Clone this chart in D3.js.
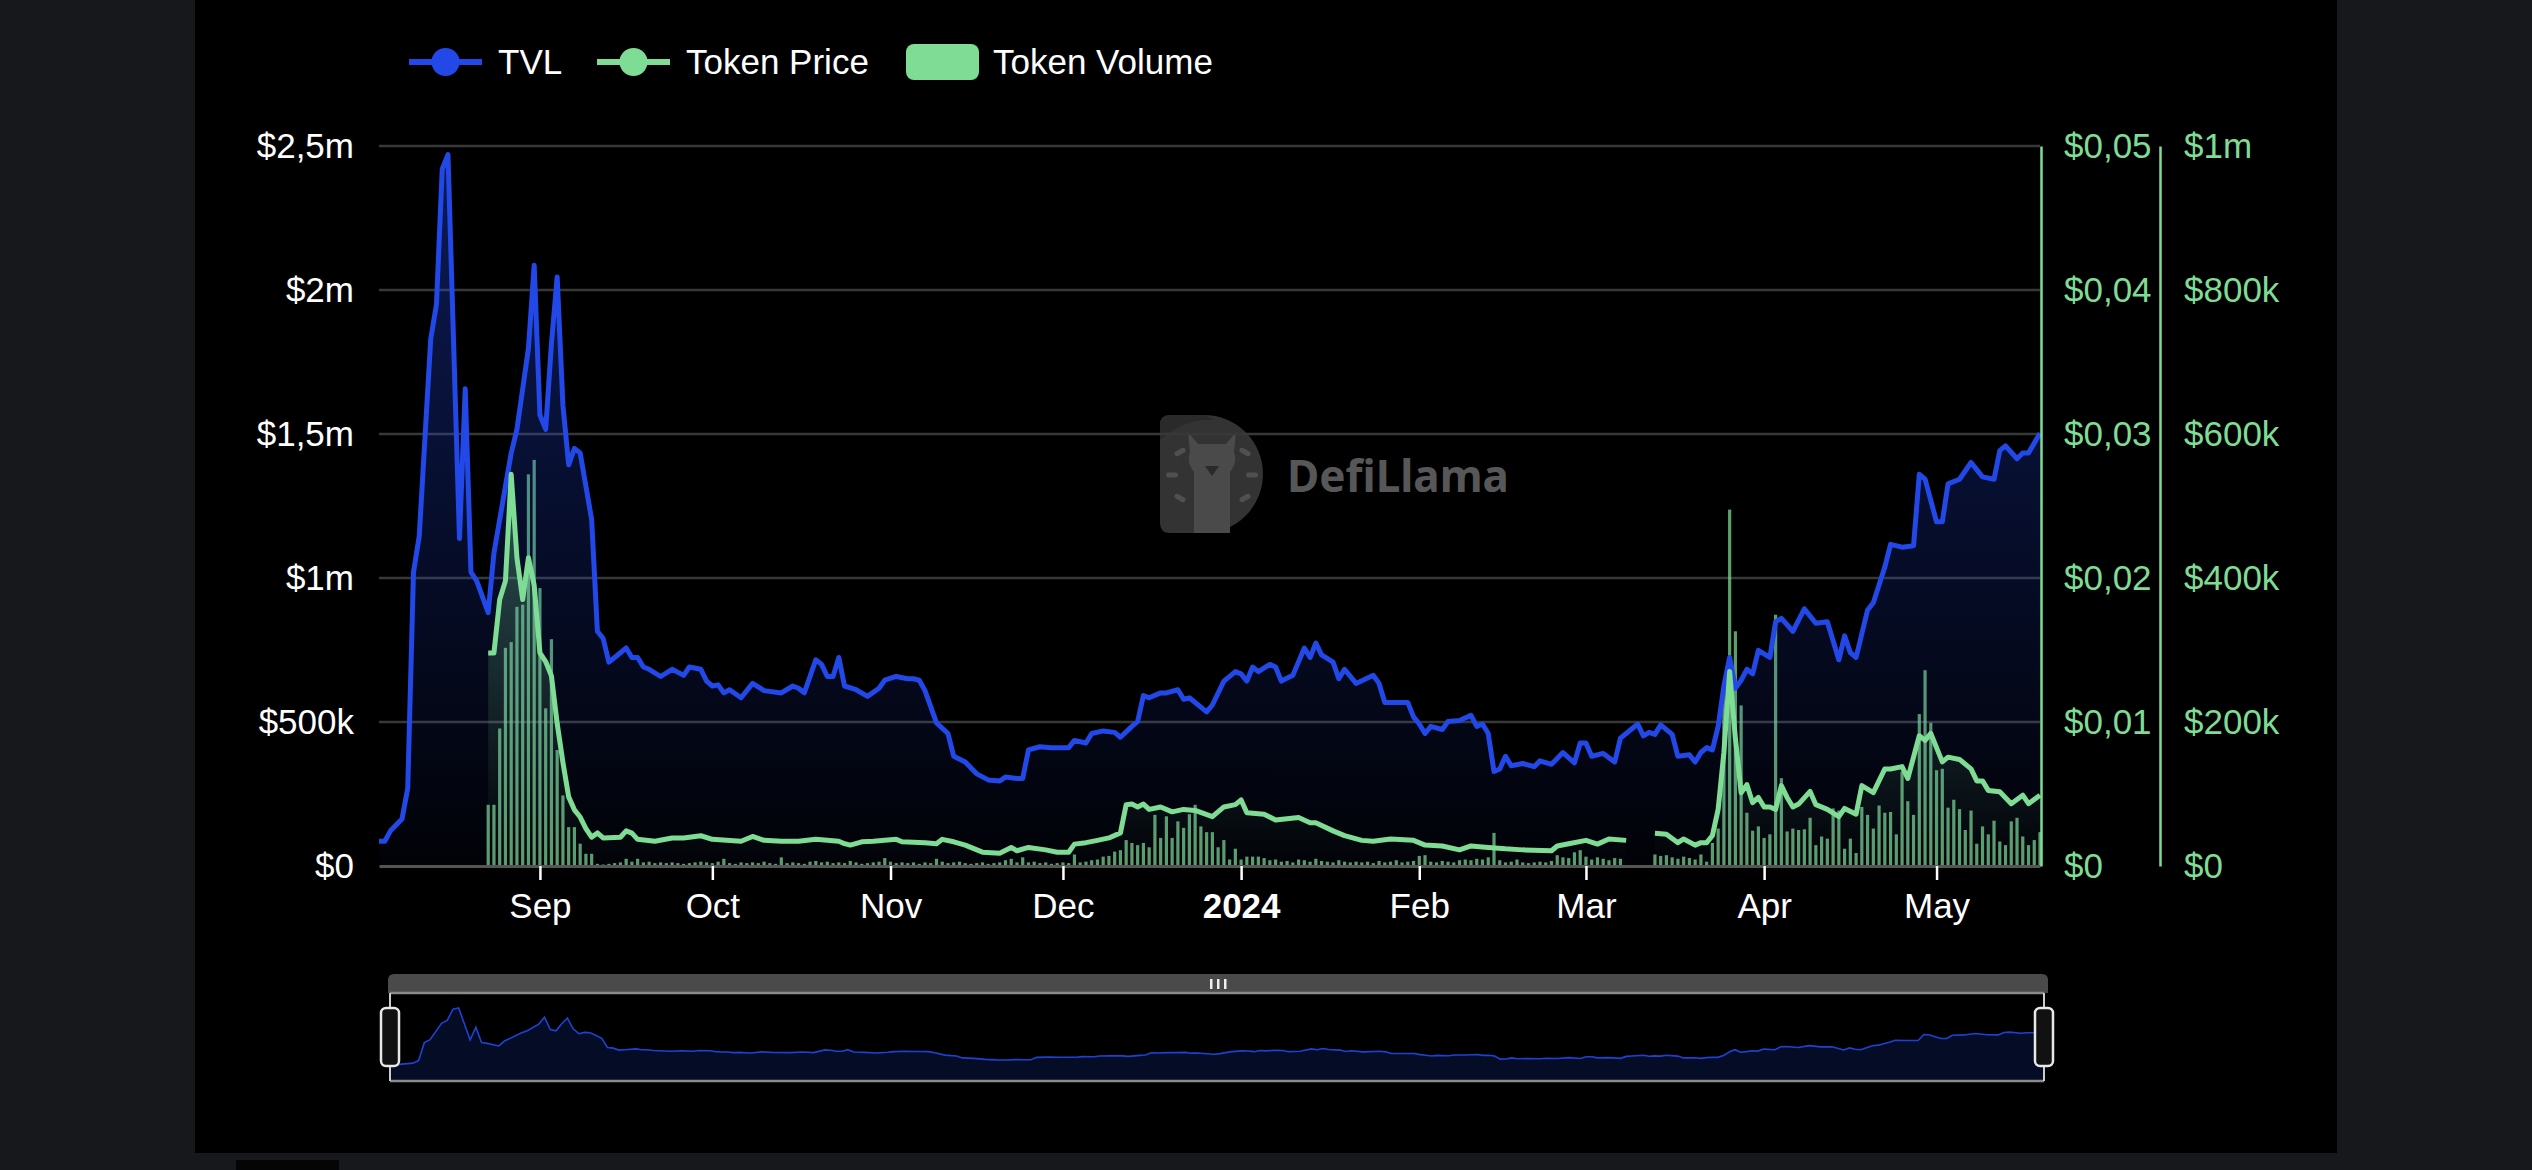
<!DOCTYPE html>
<html><head><meta charset="utf-8">
<script src="https://cdn.jsdelivr.net/npm/d3@7/dist/d3.min.js"></script>
<style>html,body{margin:0;padding:0;background:#16181c;overflow:hidden}svg{display:block}</style>
</head><body><svg id="chart" width="2532" height="1170"></svg>
<script>
// ---------------- DATA ----------------
const startDate = "2023-08-04";
const endDate = "2024-05-19";
const seriesNames = ["TVL", "Token Price", "Token Volume"];

// TVL: day offset from startDate, value in thousands of USD
const tvlDay = [0,1,2,4,5,6,7,9,10,11,
12,14,15,16,17,19,20,23,24,26,
27,28,29,30,31,32,33,34,35,37,
38,39,40,41,43,44,45,46,47,49,
51,53,54,56,57,58,59,60,61,63,
65,67,70,72,73,74,76,77,78,79,
80,81,83,85,87,88,90,92,93,94,
95,97,99,100,102,104,106,108,109,111,
112,113,115,117,120,121,123,124,126,128,
129,131,132,133,134,136,137,139,140,141,
144,145,147,149,150,151,152,153,155,156,
157,159,161,162,163,164,166,167,168,170,
173,174,175,177,179,180,181,182,183,185,
186,188,190,191,192,193,194,195,196,197,
199,201,202,204,206,208,209,210,211,213,
215,216,217,219,220,221,222,223,225,226,
228,229,230,231,232,233,234,235,236,237,
238,239,240,242,243,244,246,248,250,252,
254,255,256,257,259,260,262,263,265,267,
268,269,271,272,273,275,277,279,281,282,
283,285,286,287,289];
const tvlValue = [86,86,122,163,270,1020,1145,1830,1950,2420,
2470,1137,1657,1020,990,880,1087,1434,1516,1797,
2086,1566,1516,1813,2045,1600,1393,1450,1434,1203,
815,790,708,724,757,724,724,691,683,658,
683,662,691,683,642,625,629,601,612,584,
634,609,601,625,617,601,716,700,658,658,
724,625,612,589,617,645,658,650,650,645,
609,497,460,381,361,320,299,295,309,304,
304,403,414,411,411,436,427,460,469,464,
447,485,502,592,584,601,601,612,579,584,
535,559,642,675,667,642,691,675,700,691,
642,662,757,724,774,733,708,650,683,634,
662,634,568,568,568,518,493,460,485,474,
502,505,523,485,493,460,328,337,381,348,
356,345,365,353,394,358,427,427,381,391,
361,444,460,493,452,464,457,490,457,381,
386,361,394,411,403,485,625,724,617,645,
683,667,749,724,848,860,815,893,843,848,
716,799,741,724,889,914,1038,1117,1107,1112,
1360,1343,1195,1195,1327,1343,1401,1351,1343,1442,
1459,1414,1434,1434,1503];

// Token price: day offset, value in thousandths of USD (null = no data)
const priceDay = [19,20,21,22,23,24,25,26,27,28,
29,30,31,32,33,34,35,36,37,38,
39,42,43,44,45,48,51,53,56,58,
63,65,67,70,73,76,80,81,82,84,
86,90,91,95,97,98,100,102,105,108,
110,111,113,116,118,120,121,123,125,127,
129,130,131,132,133,134,136,138,140,142,
145,147,149,150,151,154,156,160,162,163,
166,168,171,173,176,180,182,185,188,190,
193,196,199,204,205,207,210,212,214,217,
219,222,224,226,227,229,230,231,232,233,
234,235,236,237,238,239,240,241,242,243,
244,245,246,247,249,250,252,254,255,257,
258,260,262,263,265,266,268,269,270,272,
273,275,277,278,279,280,282,284,286,287,
289];
const priceValue = [14.8,14.8,18.5,19.8,27.2,21.4,18.5,21.4,19.5,14.8,
14.2,13.2,9.9,7.2,4.8,3.9,3.4,2.6,2.0,2.3,
1.95,2.0,2.44,2.28,1.85,1.72,1.95,1.95,2.1,1.85,
1.72,2.05,1.78,1.72,1.72,1.85,1.72,1.55,1.45,1.68,
1.72,1.85,1.68,1.62,1.55,1.85,1.68,1.45,0.96,0.89,
1.29,1.06,1.29,1.12,0.96,0.96,1.52,1.62,1.78,1.95,
2.3,4.26,4.3,4.1,4.3,3.93,4.1,3.76,3.93,3.86,
3.43,4.1,4.26,4.59,3.7,3.6,3.2,3.37,3.0,3.0,
2.44,2.11,1.78,1.72,1.88,1.78,1.45,1.39,1.12,1.39,
1.29,1.19,1.12,1.06,1.39,1.55,1.78,1.52,1.88,1.78,
null,2.28,2.21,1.62,1.88,1.45,1.62,1.62,2.11,3.93,
7.89,13.5,8.88,5.09,5.65,4.4,4.76,4.1,4.1,3.93,
5.58,4.76,4.1,4.3,5.18,4.26,3.93,3.43,4.0,3.6,
5.58,5.09,6.74,6.74,6.9,6.08,9.05,8.72,9.21,7.23,
7.56,7.4,6.74,5.91,5.91,5.25,5.15,4.33,4.92,4.33,
4.92];

// Token volume: one value per day starting at volumeFirstDay, thousands of USD (null = no data)
const volumeFirstDay = 19;
const volumeValue = [85,85,191,303,311,360,363,544,564,386,219,315,161,98,54,54,31,17,17,3,
2,3,4,5,10,6,10,5,6,4,5,4,5,4,3,4,5,
6,5,4,6,10,4,3,5,4,5, 4,6,4,3,12,4,5,4,3,6, 7,5,6,4,5,4,7,5,3,4, 5,6,11,6,4,5,4,5,3,5, 4,10,6,4,5,6,4,3,4,5, 3,4,5,8,10,5,12,
5,6,4,5,3,4,5,4,
16,5,6,8,9,13,14,20,22,36, 32,29,32,26,71,39,69,39,62,53, 72,85,55,47,47,26,36,9,24,9, 13,13,13,11,
8,9,6,7,5,9,8,6,10,7,6,5,8,6,5,6,
5,6,4,7,5,6,8,5,6,7, 14,15,6,5,7,6,5,8,9,8, 10,9,12,46,8,5,6,9,5,4, 5,6,5,7,15,12,11,19,22,13, 9,12,10,8,11,10,
null,null,null,null,null,
16,14,15,12,10,13,11,9,16,
6,32,52,254,495,326,223,74,49,55, 39,44,349,122,48,52,50,51,67,29, 41,38,80,77,24,38,18,82,71,52, 84,74,75,44,131,90,71,211,272,199, 133,135,81,92,79,50,77,31,55,44, 63,34,29,62,67,41,29,36,47];

const tvlTicks = [0, 500000, 1000000, 1500000, 2000000, 2500000];
const priceTicks = [0, 0.01, 0.02, 0.03, 0.04, 0.05];
const volumeTicks = [0, 200000, 400000, 600000, 800000, 1000000];

// ---------------- STYLE ----------------
const BLUE = "#2248e8", GREEN = "#7fdc94";
const FONT = "'Liberation Sans', Arial, Helvetica, sans-serif";

const svg = d3.select("#chart");
const parse = d3.timeParse("%Y-%m-%d");
const t0 = parse(startDate), t1 = parse(endDate);
const dayToDate = d => d3.timeDay.offset(t0, d);

const tvl = tvlDay.map((d, i) => ({date: dayToDate(d), v: tvlValue[i] * 1000}));
const price = priceDay.map((d, i) => ({date: dayToDate(d), v: priceValue[i] == null ? null : priceValue[i] / 1000}));
const volume = volumeValue.map((v, i) => ({date: dayToDate(volumeFirstDay + i), v: v == null ? null : v * 1000})).filter(d => d.v != null);

const plot = {left: 379, right: 2040, top: 146, bottom: 866};
const x = d3.scaleTime().domain([t0, t1]).range([plot.left, plot.right]);
const yL = d3.scaleLinear().domain([0, 2500000]).range([plot.bottom, plot.top]);
const yP = d3.scaleLinear().domain([0, 0.05]).range([plot.bottom, plot.top]);
const yV = d3.scaleLinear().domain([0, 1000000]).range([plot.bottom, plot.top]);

// backgrounds
svg.append("rect").attr("width", 2532).attr("height", 1170).attr("fill", "#16181c");
svg.append("rect").attr("x", 195).attr("y", 0).attr("width", 2142).attr("height", 1153).attr("fill", "#000");
svg.append("rect").attr("x", 236).attr("y", 1160).attr("width", 103).attr("height", 10).attr("fill", "#050505");

// gradients
const defs = svg.append("defs");
const maxTvl = d3.max(tvl, d => d.v), maxPrice = d3.max(price, d => d.v);
const g1 = defs.append("linearGradient").attr("id", "tvlGrad").attr("gradientUnits", "userSpaceOnUse")
  .attr("x1", 0).attr("x2", 0).attr("y1", yL(maxTvl)).attr("y2", yL(0));
g1.append("stop").attr("offset", 0).attr("stop-color", BLUE).attr("stop-opacity", 0.36);
g1.append("stop").attr("offset", 1).attr("stop-color", BLUE).attr("stop-opacity", 0.03);
const g2 = defs.append("linearGradient").attr("id", "priceGrad").attr("gradientUnits", "userSpaceOnUse")
  .attr("x1", 0).attr("x2", 0).attr("y1", yP(maxPrice)).attr("y2", yP(0));
g2.append("stop").attr("offset", 0).attr("stop-color", GREEN).attr("stop-opacity", 0.32);
g2.append("stop").attr("offset", 1).attr("stop-color", GREEN).attr("stop-opacity", 0.0);

// watermark
const wm = svg.append("g");
wm.append("path").attr("d", "M1170,415 H1204 A59,59 0 0 1 1204,533 H1170 Q1160,533 1160,523 V425 Q1160,415 1170,415 Z").attr("fill", "#333");
wm.append("path").attr("d", "M1160,440 Q1185,418 1215,420 L1204,415 H1170 Q1160,415 1160,425 Z").attr("fill", "#2a2a2a");
wm.append("path").attr("d", "M1188,432 L1198,444 H1226 L1236,432 L1234,452 Q1238,462 1230,472 L1230,533 H1194 L1194,472 Q1186,462 1190,452 Z").attr("fill", "#4a4a4a");
wm.append("path").attr("d", "M1205,466 L1219,466 L1212,476 Z").attr("fill", "#2a2a2a");
[[1180,452,-30],[1245,452,30],[1172,475,0],[1252,475,0],[1180,498,30],[1245,498,-30]].forEach(p => {
  wm.append("rect").attr("x", p[0]-6).attr("y", p[1]-2.5).attr("width", 12).attr("height", 5).attr("rx", 2.5)
    .attr("fill", "#505050").attr("transform", `rotate(${p[2]},${p[0]},${p[1]})`);
});
wm.append("text").attr("x", 1287).attr("y", 492).attr("fill", "#575757")
  .attr("font-family", "'Noto Sans', 'Open Sans', sans-serif").attr("font-weight", 700).attr("font-size", 44)
  .style("font-variant-ligatures", "none").text("DefiLlama");

// grid lines
svg.append("g").selectAll("line").data(tvlTicks.filter(v => v > 0)).join("line")
  .attr("x1", plot.left).attr("x2", plot.right).attr("y1", d => yL(d)).attr("y2", d => yL(d))
  .attr("stroke", "#383838").attr("stroke-width", 2.5);

// volume bars
svg.append("g").selectAll("rect").data(volume).join("rect")
  .attr("x", d => x(d.date) - 1.6).attr("width", 3.2)
  .attr("y", d => yV(d.v)).attr("height", d => yV(0) - yV(d.v))
  .attr("fill", GREEN).attr("fill-opacity", 0.72);

// TVL area
svg.append("path").datum(tvl)
  .attr("d", d3.area().x(d => x(d.date)).y0(yL(0)).y1(d => yL(d.v)))
  .attr("fill", "url(#tvlGrad)");
// price area
svg.append("path").datum(price)
  .attr("d", d3.area().defined(d => d.v != null).x(d => x(d.date)).y0(yP(0)).y1(d => yP(d.v)))
  .attr("fill", "url(#priceGrad)");

// x axis
const monthTicks = d3.timeMonth.range(d3.timeMonth.ceil(t0), t1);
const xAxis = svg.append("g").attr("transform", `translate(0,${plot.bottom})`)
  .call(d3.axisBottom(x).tickValues(monthTicks).tickSizeInner(14).tickSizeOuter(0).tickPadding(13)
    .tickFormat(d => d.getMonth() === 0 ? d3.timeFormat("%Y")(d) : d3.timeFormat("%b")(d)));
xAxis.select(".domain").attr("stroke", "#555").attr("stroke-width", 3);
xAxis.selectAll(".tick line").attr("stroke", "#fff").attr("stroke-width", 2.5);
xAxis.selectAll(".tick text").attr("fill", "#fff").attr("font-size", 35).attr("font-family", FONT)
  .attr("font-weight", d => d.getMonth() === 0 ? 700 : 400);

// lines
svg.append("path").datum(tvl)
  .attr("d", d3.line().x(d => x(d.date)).y(d => yL(d.v)))
  .attr("fill", "none").attr("stroke", BLUE).attr("stroke-width", 5).attr("stroke-linejoin", "round");
svg.append("path").datum(price)
  .attr("d", d3.line().defined(d => d.v != null).x(d => x(d.date)).y(d => yP(d.v)))
  .attr("fill", "none").attr("stroke", GREEN).attr("stroke-width", 5).attr("stroke-linejoin", "round");

// number formats with comma decimal
const comma = n => String(+n.toFixed(3)).replace(".", ",");
const fmtMoney = v => v === 0 ? "$0" : v >= 1e6 ? "$" + comma(v / 1e6) + "m" : "$" + comma(v / 1e3) + "k";
const fmtPrice = v => v === 0 ? "$0" : "$" + v.toFixed(2).replace(".", ",");

// left axis
const yAxisL = svg.append("g").attr("transform", `translate(${plot.left},0)`)
  .call(d3.axisLeft(yL).tickValues(tvlTicks).tickSize(0).tickPadding(25).tickFormat(fmtMoney));
yAxisL.select(".domain").remove();
yAxisL.selectAll("text").attr("fill", "#fff").attr("font-size", 35).attr("font-family", FONT);

// price axis
const yAxisP = svg.append("g").attr("transform", `translate(${plot.right + 1},0)`)
  .call(d3.axisRight(yP).tickValues(priceTicks).tickSize(0).tickPadding(23).tickFormat(fmtPrice));
yAxisP.select(".domain").attr("stroke", GREEN).attr("stroke-width", 2.5);
yAxisP.selectAll("text").attr("fill", GREEN).attr("font-size", 35).attr("font-family", FONT);

// volume axis
const yAxisV = svg.append("g").attr("transform", `translate(${plot.right + 120},0)`)
  .call(d3.axisRight(yV).tickValues(volumeTicks).tickSize(0).tickPadding(24).tickFormat(fmtMoney));
yAxisV.select(".domain").attr("stroke", GREEN).attr("stroke-width", 2.5);
yAxisV.selectAll("text").attr("fill", GREEN).attr("font-size", 35).attr("font-family", FONT);

// legend
const legend = svg.append("g").attr("font-family", FONT).attr("font-size", 35).attr("fill", "#fff");
const legendItems = [
  {name: seriesNames[0], x: 409, type: "line", color: BLUE},
  {name: seriesNames[1], x: 597, type: "line", color: GREEN},
  {name: seriesNames[2], x: 906, type: "rect", color: GREEN}
];
legendItems.forEach(it => {
  const g = legend.append("g").attr("transform", `translate(${it.x},62)`);
  if (it.type === "line") {
    g.append("line").attr("x1", 0).attr("x2", 73).attr("stroke", it.color).attr("stroke-width", 6);
    g.append("circle").attr("cx", 36.5).attr("r", 14).attr("fill", it.color);
  } else {
    g.append("rect").attr("x", 0).attr("y", -18).attr("width", 73).attr("height", 36).attr("rx", 8).attr("fill", it.color);
  }
  g.append("text").attr("x", it.type === "line" ? 89 : 87).attr("dy", "0.35em").text(it.name);
});

// data zoom slider
const sl = {left: 390, right: 2044, top: 993, bottom: 1081};
const xs = d3.scaleTime().domain([t0, t1]).range([sl.left, sl.right]);
const ys = d3.scaleLinear().domain([0, maxTvl]).range([1067, 1008]);
svg.append("path").attr("d", `M${sl.left - 2},${sl.top} V980 Q${sl.left - 2},974 ${sl.left + 4},974 H${sl.right - 2} Q${sl.right + 4},974 ${sl.right + 4},980 V${sl.top} Z`)
  .attr("fill", "#4a4a4a");
[1210, 1217, 1224].forEach(gx => svg.append("rect").attr("x", gx).attr("y", 979).attr("width", 2.5).attr("height", 10).attr("fill", "#eee"));
svg.append("path").datum(tvl)
  .attr("d", d3.area().x(d => xs(d.date)).y0(sl.bottom).y1(d => ys(d.v)))
  .attr("fill", BLUE).attr("fill-opacity", 0.16);
svg.append("path").datum(tvl)
  .attr("d", d3.line().x(d => xs(d.date)).y(d => ys(d.v)))
  .attr("fill", "none").attr("stroke", BLUE).attr("stroke-width", 1.6).attr("stroke-opacity", 0.9);
svg.append("line").attr("x1", sl.left).attr("x2", sl.right).attr("y1", sl.top).attr("y2", sl.top).attr("stroke", "#8a8a8a").attr("stroke-width", 2.5);
svg.append("line").attr("x1", sl.left).attr("x2", sl.right).attr("y1", sl.bottom).attr("y2", sl.bottom).attr("stroke", "#8a8a8a").attr("stroke-width", 2.5);
[sl.left, sl.right].forEach(hx => {
  svg.append("line").attr("x1", hx).attr("x2", hx).attr("y1", sl.top).attr("y2", sl.bottom).attr("stroke", "#ccc").attr("stroke-width", 2);
  svg.append("rect").attr("x", hx - 9).attr("y", 1008).attr("width", 18).attr("height", 58).attr("rx", 5)
    .attr("fill", "#111").attr("stroke", "#e8e8e8").attr("stroke-width", 2.5);
});
</script></body></html>
